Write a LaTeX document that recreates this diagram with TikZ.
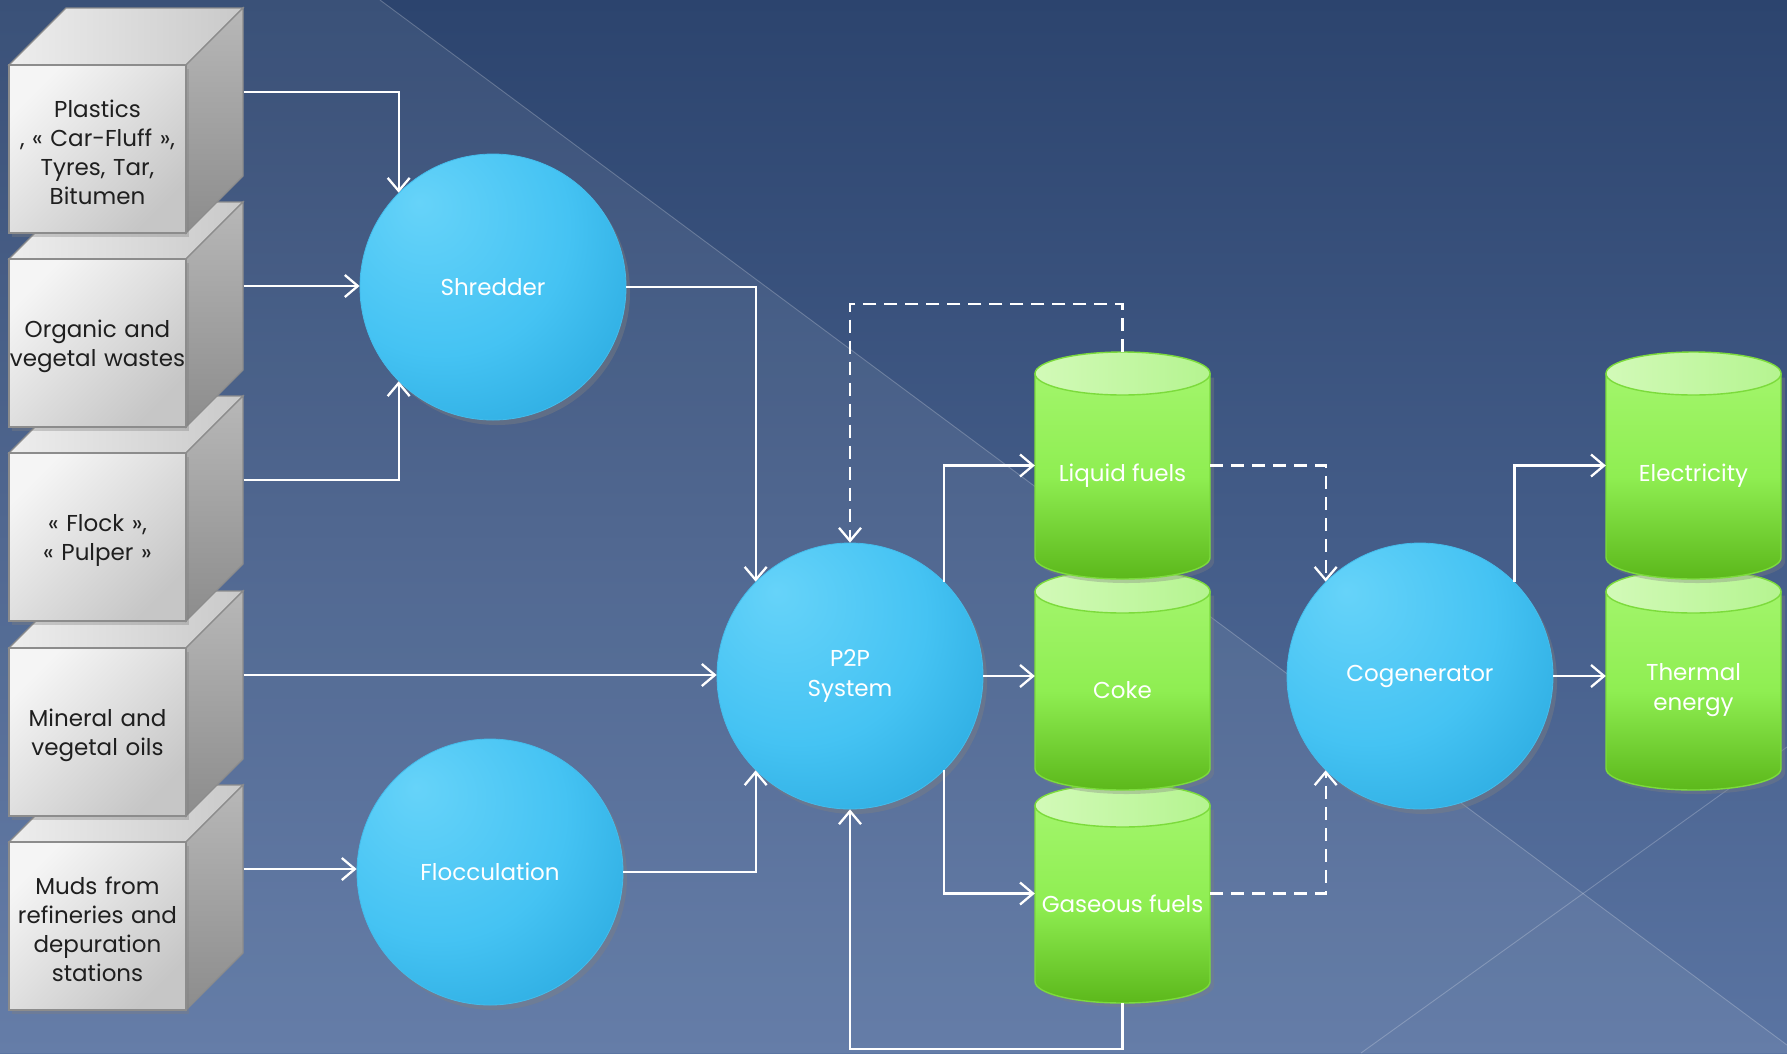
\documentclass[tikz,border=0pt]{standalone}
\usepackage{fontspec}
\setmainfont{Poppins}
\usetikzlibrary{arrows.meta,shadows,calc}
\definecolor{bgtop}{HTML}{2C446E}
\definecolor{bgbot}{HTML}{5A74A2}
\definecolor{sphA}{HTML}{66D3F9}
\definecolor{sphB}{HTML}{45C3F3}
\definecolor{sphC}{HTML}{1A9AD3}
\definecolor{sphE}{HTML}{44BCEB}
\definecolor{cubeA}{HTML}{F5F5F5}
\definecolor{cubeB}{HTML}{C6C6C6}
\definecolor{cubeE}{HTML}{8C8C8C}
\definecolor{cylA}{HTML}{A2F56B}
\definecolor{cylM}{HTML}{8FEE52}
\definecolor{cylB}{HTML}{5CB81B}
\definecolor{cylT}{HTML}{D2FAB8}
\definecolor{cylT2}{HTML}{B5F490}
\definecolor{cylE}{HTML}{7CDB3C}
\pgfdeclareradialshading{bluesph}{\pgfpoint{-14bp}{16bp}}{color(0bp)=(sphA); color(24bp)=(sphB); color(52bp)=(sphC); color(80bp)=(sphC)}
\newcommand\cubefont{\fontsize{23}{29}\selectfont}
\newcommand\circfont{\fontsize{23}{30}\selectfont}
\newcommand\mycube[3]{%
  \path[cubetop] (9,#2) -- (66,#2-57) -- (243,#2-57) -- (186,#2) -- cycle;
  \path[cubeside] (186,#2) -- (243,#2-57) -- (243,#2+168-57) -- (186,#2+168) -- cycle;
  \node[cubefront] (#1) at (97.5,#2+84) {};
  \node[cubetext] (#1t) at (97.5,#2+87) {#3};
  \coordinate (#1s) at ($(#1.east)+(57pt,57pt)$);
}
\newcommand\mycyl[5]{%
  \path[cylbody] (#2,#3+21.5) -- (#2,#4-21.5) arc[start angle=180,end angle=360,x radius=87.5pt,y radius=21.5pt] -- (#2+175,#3+21.5) -- cycle;
  \path[cyltop] (#2+87.5,#3+21.5) ellipse [x radius=87.5pt, y radius=21.5pt];
  \node[cylnode, minimum height=#4-#3] (#1) at (#2+87.5,{(#3+#4)/2}) {};
  \node[cyltext] (#1t) at (#2+87.5,{(#3+#4)/2+10}) {#5};
}
\begin{document}
\begin{tikzpicture}[x=1pt,y=-1pt,
  cubetop/.style={draw=cubeE, line width=1.2pt, left color=cubeA!97!black, right color=cubeB!95!white},
  cubeside/.style={draw=cubeE, line width=1.2pt, top color=black!28, bottom color=black!45},
  cubefront/.style={rectangle, minimum width=177pt, minimum height=168pt, inner sep=0pt,
    draw=cubeE, line width=1.2pt, top color=cubeA, bottom color=cubeB, shading angle=45,
    drop shadow={opacity=0.35, shadow xshift=3pt, shadow yshift=-4pt}},
  cubetext/.style={text width=177pt, inner sep=0pt, align=center, font=\cubefont, text=black!88},
  sph/.style={circle, minimum size=266pt, inner sep=0pt, shade, shading=bluesph,
    draw=sphE, line width=0.8pt, text=white, font=\circfont, align=center,
    drop shadow={opacity=0.4, shadow xshift=4pt, shadow yshift=-5pt}},
  cylbody/.style={draw=cylE, line width=1.4pt, top color=cylA, bottom color=cylB, middle color=cylM,
    drop shadow={opacity=0.35, shadow xshift=4pt, shadow yshift=-4pt}},
  cyltop/.style={draw=cylE, line width=1.4pt, left color=cylT, right color=cylT2},
  cylnode/.style={rectangle, minimum width=175pt, inner sep=0pt},
  cyltext/.style={inner sep=0pt, text=white, font=\circfont, align=center},
  arr/.style={draw=white, line width=2.3pt, -{Straight Barb[length=13pt,width=22pt]}},
  dsh/.style={arr, dash pattern=on 13pt off 8pt},
  bgline/.style={draw=white, opacity=0.22, line width=0.9pt}]
\useasboundingbox (0,0) rectangle (1787,1053);
% background
\fill[top color=bgtop, bottom color=bgbot] (0,0) rectangle (1787,1053);
\fill[white, opacity=0.07] (0,0) -- (380,0) -- (1787,1045) -- (1787,1053) -- (0,1053) -- cycle;
\path[bgline] (380,0) -- (1787,1045);
\path[bgline] (1361,1053) -- (1787,747);
% cubes (bottom first)
\mycube{c5}{842}{Muds from\\refineries and\\depuration\\stations}
\mycube{c4}{648}{Mineral and\\vegetal oils}
\mycube{c3}{453}{« Flock »,\\« Pulper »}
\mycube{c2}{259}{Organic and\\vegetal wastes}
\mycube{c1}{65}{Plastics\\, « Car-Fluff »,\\Tyres, Tar,\\Bitumen}
% processes
\node[sph] (shred) at (493,287) {Shredder};
\node[sph] (floc) at (490,872) {Flocculation};
\node[sph] (p2p) at (850,676) {\raisebox{0pt}{P2P}\\System};
\node[sph] (cogen) at (1420,676) {Cogenerator};
% products (lower first)
\mycyl{gas}{1035}{784}{1003}{Gaseous fuels}
\mycyl{coke}{1035}{570}{790}{Coke}
\mycyl{liq}{1035}{352}{579}{Liquid fuels}
\mycyl{therm}{1606}{570}{790}{Thermal\\energy}
\mycyl{elec}{1606}{352}{579}{Electricity}
% helper levels
\coordinate (topY) at (0,304);
\coordinate (lowY) at (0,1049);
% connectors
\draw[arr] (c1s) -| (shred.north west);
\draw[arr] (c2s) -- (c2s -| shred.west);
\draw[arr] (c3s) -| (shred.south west);
\draw[arr] (c4s) -- (c4s -| p2p.west);
\draw[arr] (c5s) -- (c5s -| floc.west);
\draw[arr] (shred.east) -| (p2p.north west);
\draw[arr] (floc.east) -| (p2p.south west);
\draw[arr] (p2p.north east) |- (liq.west);
\draw[arr] (p2p.east) -- (p2p.east -| coke.west);
\draw[arr] (p2p.south east) |- (gas.west);
\draw[arr] (gas.south) -- (gas.south |- lowY) -| (p2p.south);
\draw[dsh] (liq.north) -- (liq.north |- topY) -| (p2p.north);
\draw[dsh] (liq.east) -| (cogen.north west);
\draw[dsh] (gas.east) -| (cogen.south west);
\draw[arr] (cogen.north east) |- (elec.west);
\draw[arr] (cogen.east) -- (cogen.east -| therm.west);
\end{tikzpicture}
\end{document}
